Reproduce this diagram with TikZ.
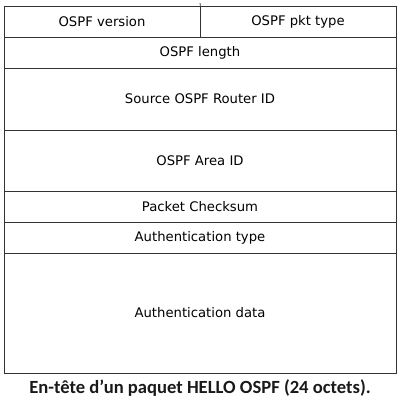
\documentclass[tikz,border=0pt]{standalone}
\usepackage{fontspec}
\setmainfont{DejaVu Sans}
\newfontfamily\captionfont{Carlito}
\usetikzlibrary{positioning}

\begin{document}
\begin{tikzpicture}[
    x=1pt, y=-1pt,
    font=\fontsize{13.2pt}{15pt}\selectfont,
    field/.style={
        draw=black!80,
        line width=0.8pt,
        fill=white,
        inner sep=0pt,
        minimum height=31pt,
        align=center
    },
    halffield/.style={
        field,
        minimum width=196pt
    },
    fullfield/.style={
        field,
        minimum width=392pt
    },
    captiontext/.style={
        font=\captionfont\bfseries\fontsize{18.6pt}{21pt}\selectfont,
        text=black!90
    }
]

\useasboundingbox (0,0) rectangle (402,400);

% --- First word: version + packet type -------------------------------------
\node[halffield] (version) at (102, 21.5) {OSPF version};
\node[halffield] (pkttype) at (298, 21.5) {OSPF pkt type};

% --- Remaining header fields --------------------------------------------
\node[fullfield]                     (length)   at (200, 52.5)  {OSPF length};
\node[fullfield, minimum height=62pt] (routerid) at (200, 99)    {Source OSPF Router ID};
\node[fullfield, minimum height=61pt] (areaid)   at (200, 160.5) {OSPF Area ID};
\node[fullfield]                     (checksum) at (200, 206.5) {Packet Checksum};
\node[fullfield]                     (authtype) at (200, 237.5) {Authentication type};
\node[fullfield, minimum height=120pt] (authdata) at (200, 313) {Authentication data};

% --- Divider tick above the first word ------------------------------------
\coordinate (tick) at (200, 3);
\draw[draw=black!80, line width=0.8pt] (tick) -- (version.north east);

% --- Caption --------------------------------------------------------------
\node[captiontext] (caption) at (200, 388)
    {En-tête d’un paquet HELLO OSPF (24 octets).};

\end{tikzpicture}
\end{document}
